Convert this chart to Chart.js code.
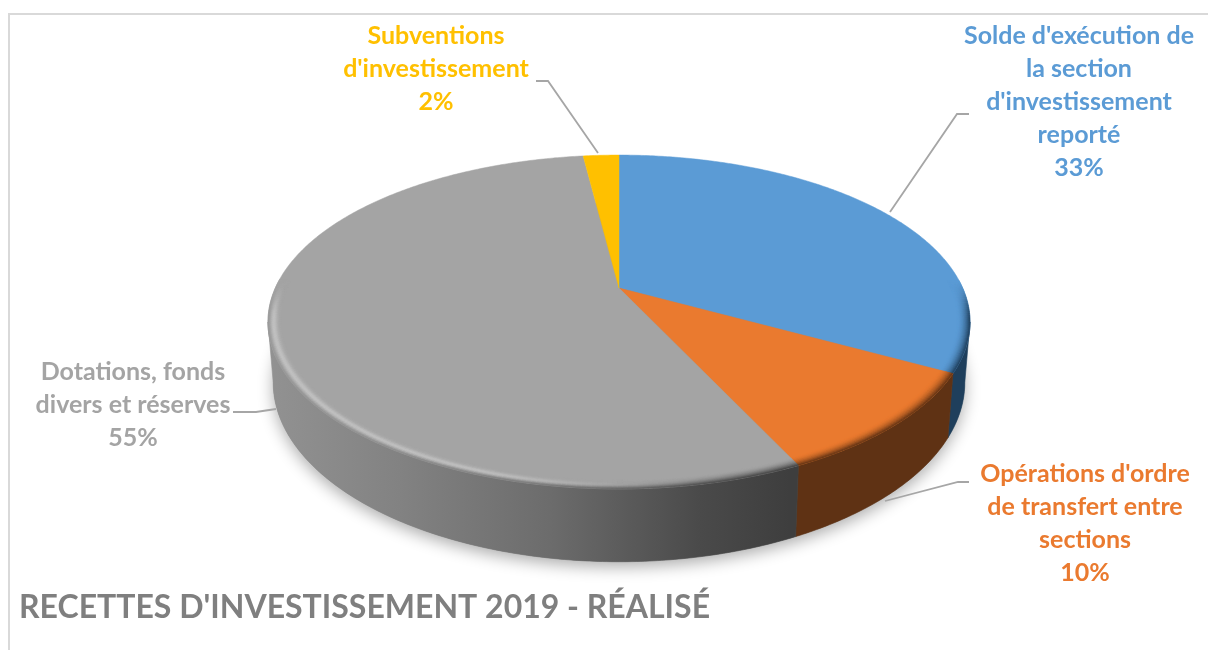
<!DOCTYPE html>
<html lang="fr">
<head>
<meta charset="utf-8">
<title>Recettes d'investissement 2019</title>
<script src="https://cdn.jsdelivr.net/npm/chart.js@4"></script>
<style>
  html, body { margin: 0; padding: 0; background: #fff; }
  canvas { display: block; }
</style>
</head>
<body>
<canvas id="pie" width="1208" height="650"></canvas>
<script>
// Budget shares, clockwise from twelve o'clock
const categories = [
  "Solde d'exécution de la section d'investissement reporté",
  "Opérations d'ordre de transfert entre sections",
  "Dotations, fonds divers et réserves",
  "Subventions d'investissement"
];
const shares = [33, 10, 55, 2];
const sliceColors = ['#5b9bd5', '#ea7a2f', '#a4a4a4', '#ffc000'];
const wallColors = ['#1f3f5c', '#5f3214', null, '#7f6000'];
const labelLines = [
  ["Solde d'exécution de", 'la section', "d'investissement", 'reporté'],
  ["Opérations d'ordre", 'de transfert entre', 'sections'],
  ['Dotations, fonds', 'divers et réserves'],
  ['Subventions', "d'investissement"]
];
const chartTitle = "RECETTES D'INVESTISSEMENT 2019 - RÉALISÉ";

// Where each label block sits and how its leader line runs
const labelAnchors = [[1079, 36], [1085, 474], [133, 372], [436, 36]];
const leaderPaths = [
  [[969, 114], [957, 114], [890, 212]],
  [[969, 482], [958, 482], [885, 501]],
  [[233, 412], [256, 412], [276, 409]],
  [[536, 81], [548, 81], [598, 153]]
];

// Perspective view of the disc
const view = { cx: 619, cy: 288, A: 160, B: 343.7, k: 0.2036, depth: 58, baseScale: 0.985, rim: 0.036 };
const greyWallStops = [[267, [146, 146, 146]], [400, [130, 130, 130]], [550, [108, 108, 108]], [700, [74, 74, 74]], [790, [62, 62, 62]]];

function project(angle, r, lowered) {
  const u = r * Math.cos(angle), v = r * Math.sin(angle);
  const w = 1 - view.k * v;
  const sx = lowered ? view.baseScale : 1;
  return {
    x: view.cx + view.B * u / w * sx,
    y: view.cy + view.A * v / w + (lowered ? view.depth / w : 0)
  };
}

function hexRgb(h) {
  return [1, 3, 5].map(i => parseInt(h.slice(i, i + 2), 16));
}
function mix(a, b, t) {
  return [0, 1, 2].map(i => a[i] + (b[i] - a[i]) * t);
}
function css(c) {
  return 'rgb(' + c.map(Math.round).join(',') + ')';
}
function smooth(a, b, x) {
  const t = Math.min(1, Math.max(0, (x - a) / (b - a)));
  return t * t * (3 - 2 * t);
}
function greyAt(x) {
  const s = greyWallStops;
  if (x <= s[0][0]) return s[0][1];
  for (let i = 1; i < s.length; i++) {
    if (x <= s[i][0]) return mix(s[i - 1][1], s[i][1], (x - s[i - 1][0]) / (s[i][0] - s[i - 1][0]));
  }
  return s[s.length - 1][1];
}
function wallAt(i, x) {
  return wallColors[i] ? hexRgb(wallColors[i]) : greyAt(x);
}

function tracePolygon(ctx, pts) {
  ctx.beginPath();
  pts.forEach((p, n) => n ? ctx.lineTo(p.x, p.y) : ctx.moveTo(p.x, p.y));
  ctx.closePath();
}
function arcPoints(a1, a2, r, lowered) {
  const n = Math.max(2, Math.ceil(Math.abs(a2 - a1) / 0.01));
  const pts = [];
  for (let i = 0; i <= n; i++) pts.push(project(a1 + (a2 - a1) * i / n, r, lowered));
  return pts;
}

// Portion of an arc's angular span that shows on the front wall
function frontSpan(arc) {
  const lo = Math.asin(view.k), hi = Math.PI - lo;
  const a1 = Math.max(arc.startAngle, lo), a2 = Math.min(arc.endAngle, hi);
  return a2 > a1 ? [a1, a2] : null;
}

function drawShadow(ctx) {
  ctx.save();
  ctx.shadowColor = 'rgba(0,0,0,0.33)';
  ctx.shadowBlur = 16;
  ctx.shadowOffsetY = 5;
  ctx.fillStyle = '#8a8a8a';
  tracePolygon(ctx, arcPoints(0, Math.PI * 2, 1, true));
  ctx.fill();
  ctx.restore();
}

function drawWall(ctx, arc, i) {
  const span = frontSpan(arc);
  if (!span) return;
  const pts = arcPoints(span[0], span[1], 1, false).concat(arcPoints(span[1], span[0], 1, true));
  let fill;
  if (wallColors[i]) {
    fill = wallColors[i];
  } else {
    fill = ctx.createLinearGradient(greyWallStops[0][0], 0, greyWallStops[greyWallStops.length - 1][0], 0);
    const x0 = greyWallStops[0][0], x1 = greyWallStops[greyWallStops.length - 1][0];
    greyWallStops.forEach(s => fill.addColorStop((s[0] - x0) / (x1 - x0), css(s[1])));
  }
  tracePolygon(ctx, pts);
  ctx.fillStyle = fill;
  ctx.fill();
  ctx.strokeStyle = fill;
  ctx.lineWidth = 0.6;
  ctx.stroke();
}

function drawFace(ctx, arc, i) {
  const apex = { x: view.cx, y: view.cy };
  tracePolygon(ctx, [apex].concat(arcPoints(arc.startAngle, arc.endAngle, 1, false)));
  ctx.fillStyle = sliceColors[i];
  ctx.fill();
  ctx.strokeStyle = sliceColors[i];
  ctx.lineWidth = 0.5;
  ctx.stroke();
}

// Soft bevel along the front edge of a slice
function drawRim(ctx, arc, i) {
  const face = hexRgb(sliceColors[i]);
  const rings = 12, step = 0.012;
  const count = Math.ceil((arc.endAngle - arc.startAngle) / step);
  for (let s = 0; s < count; s++) {
    const a1 = arc.startAngle + (arc.endAngle - arc.startAngle) * s / count;
    const a2 = arc.startAngle + (arc.endAngle - arc.startAngle) * (s + 1) / count;
    const mid = (a1 + a2) / 2;
    const strength = smooth(-0.05, 0.2, Math.sin(mid));
    if (strength <= 0) continue;
    const deg = mid * 180 / Math.PI;
    const glow = wallColors[i] ? 0 : smooth(72, 112, deg);
    for (let r = 0; r < rings; r++) {
      const t = (r + 0.5) / rings;
      const r1 = 1 - view.rim * (1 - r / rings), r2 = 1 - view.rim * (1 - (r + 1) / rings);
      const p = project(mid, r2, false);
      let col = mix(face, wallAt(i, p.x), Math.pow(t, 2) * strength);
      const bump = Math.exp(-Math.pow((t - 0.58) / 0.28, 2));
      col = mix(col, [216, 216, 216], glow * bump * 0.62 * strength);
      const quad = [project(a1, r1, false), project(a2, r1, false), project(a2, r2, false), project(a1, r2, false)];
      tracePolygon(ctx, quad);
      ctx.fillStyle = css(col);
      ctx.strokeStyle = ctx.fillStyle;
      ctx.lineWidth = 0.5;
      ctx.fill();
      ctx.stroke();
    }
  }
}

function drawLabels(chart) {
  const ctx = chart.ctx;
  ctx.save();
  ctx.strokeStyle = '#a6a6a6';
  ctx.lineWidth = 1.8;
  leaderPaths.forEach(path => {
    ctx.beginPath();
    path.forEach((p, n) => n ? ctx.lineTo(p[0], p[1]) : ctx.moveTo(p[0], p[1]));
    ctx.stroke();
  });
  ctx.font = 'bold 25px Lato';
  ctx.textAlign = 'center';
  ctx.textBaseline = 'middle';
  const total = shares.reduce((a, b) => a + b, 0);
  labelLines.forEach((lines, i) => {
    ctx.fillStyle = sliceColors[i];
    const [x, y] = labelAnchors[i];
    lines.concat(Math.round(shares[i] / total * 100) + '%').forEach((text, n) => {
      ctx.fillText(text, x, y + n * 33);
    });
  });
  ctx.restore();
}

const pie3d = {
  id: 'pie3d',
  beforeDraw(chart) {
    const ctx = chart.ctx;
    ctx.save();
    ctx.fillStyle = '#fff';
    ctx.fillRect(0, 0, chart.width, chart.height);
    ctx.strokeStyle = '#d9d9d9';
    ctx.lineWidth = 2;
    ctx.beginPath();
    ctx.moveTo(9, chart.height);
    ctx.lineTo(9, 14);
    ctx.lineTo(chart.width, 14);
    ctx.stroke();
    ctx.restore();
  },
  // The slices keep the angles the pie controller computed; only their painting is replaced
  beforeDatasetDraw(chart, args) {
    const ctx = chart.ctx;
    const arcs = args.meta.data;
    ctx.save();
    drawShadow(ctx);
    arcs.forEach((arc, i) => drawWall(ctx, arc, i));
    arcs.forEach((arc, i) => drawFace(ctx, arc, i));
    arcs.forEach((arc, i) => drawRim(ctx, arc, i));
    ctx.restore();
    drawLabels(chart);
    return false;
  }
};

new Chart(document.getElementById('pie'), {
  type: 'pie',
  data: {
    labels: categories,
    datasets: [{ data: shares, backgroundColor: sliceColors, borderWidth: 0 }]
  },
  plugins: [pie3d],
  options: {
    responsive: false,
    animation: false,
    events: [],
    layout: { padding: { left: 19, right: 0, top: 0, bottom: 23 } },
    plugins: {
      legend: { display: false },
      tooltip: { enabled: false },
      title: {
        display: true,
        position: 'bottom',
        align: 'start',
        text: chartTitle,
        color: '#7f7f7f',
        padding: 0,
        font: { family: 'Lato', weight: 'bold', size: 32 }
      }
    }
  }
});
</script>
</body>
</html>
